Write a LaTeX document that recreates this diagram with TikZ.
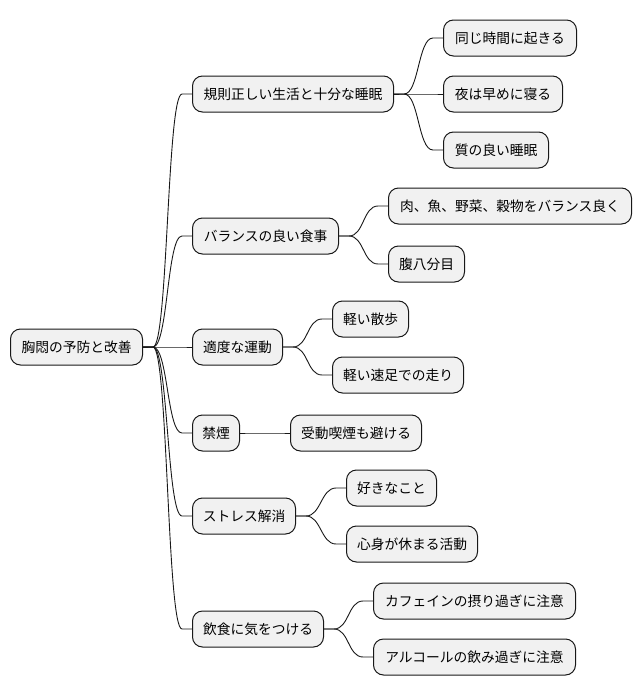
\documentclass[tikz,border=0pt]{standalone}
\usepackage{fontspec}
\newfontfamily\jp{Noto Sans CJK JP}
\definecolor{boxfill}{HTML}{F1F1F1}
\definecolor{boxline}{HTML}{181818}
\tikzset{
  mmnode/.style={draw=boxline, fill=boxfill, line width=1pt, rounded corners=10pt,
    minimum height=36pt, inner sep=0pt, anchor=west, align=center,
    font=\jp\fontsize{13.75}{16}\selectfont},
  mmline/.style={draw=boxline, line width=0.9pt}
}
\newcommand\mmlink[2]{\path[mmline] (#1.east) -- ++(10,0) .. controls +(15,0) and +(-15,0) .. ([xshift=-10pt]#2.west) -- (#2.west);}
\begin{document}
\begin{tikzpicture}[x=1pt,y=-1pt]
\useasboundingbox (0,0) rectangle (642,696);
\node[mmnode, minimum width=132pt] (root) at (10,347) {胸悶の予防と改善};
\node[mmnode, minimum width=201pt] (a) at (192,94) {規則正しい生活と十分な睡眠};
\node[mmnode, minimum width=133pt] (a1) at (443,38) {同じ時間に起きる};
\node[mmnode, minimum width=119pt] (a2) at (443,94) {夜は早めに寝る};
\node[mmnode, minimum width=105pt] (a3) at (443,150) {質の良い睡眠};
\node[mmnode, minimum width=146pt] (b) at (192,236) {バランスの良い食事};
\node[mmnode, minimum width=243pt] (b1) at (388,206) {肉、魚、野菜、穀物をバランス良く};
\node[mmnode, minimum width=76pt] (b2) at (388,264) {腹八分目};
\node[mmnode, minimum width=90pt] (c) at (192,347) {適度な運動};
\node[mmnode, minimum width=76pt] (c1) at (332,319) {軽い散歩};
\node[mmnode, minimum width=131pt] (c2) at (332,375) {軽い速足での走り};
\node[mmnode, minimum width=47pt] (d) at (192,433) {禁煙};
\node[mmnode, minimum width=131pt] (d1) at (290,433) {受動喫煙も避ける};
\node[mmnode, minimum width=103pt] (e) at (192,516) {ストレス解消};
\node[mmnode, minimum width=90pt] (e1) at (346,488) {好きなこと};
\node[mmnode, minimum width=131pt] (e2) at (346,544) {心身が休まる活動};
\node[mmnode, minimum width=131pt] (f) at (192,629) {飲食に気をつける};
\node[mmnode, minimum width=202pt] (f1) at (373,601) {カフェインの摂り過ぎに注意};
\node[mmnode, minimum width=202pt] (f2) at (373,657) {アルコールの飲み過ぎに注意};
\mmlink{root}{a}
\mmlink{root}{b}
\mmlink{root}{c}
\mmlink{root}{d}
\mmlink{root}{e}
\mmlink{root}{f}
\mmlink{a}{a1}
\mmlink{a}{a2}
\mmlink{a}{a3}
\mmlink{b}{b1}
\mmlink{b}{b2}
\mmlink{c}{c1}
\mmlink{c}{c2}
\mmlink{d}{d1}
\mmlink{e}{e1}
\mmlink{e}{e2}
\mmlink{f}{f1}
\mmlink{f}{f2}
\end{tikzpicture}
\end{document}
